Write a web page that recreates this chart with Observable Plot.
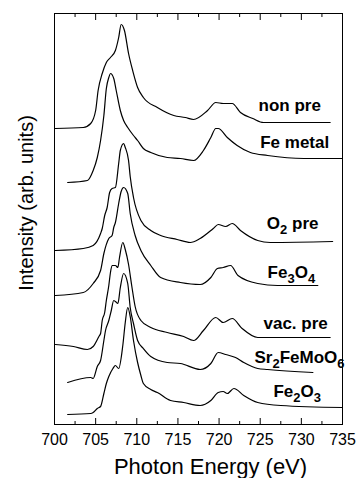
<!DOCTYPE html>
<html>
<head>
<meta charset="utf-8">
<script src="https://cdn.jsdelivr.net/npm/d3@7"></script>
<script src="https://cdn.jsdelivr.net/npm/@observablehq/plot@0.6"></script>
<style>
  html, body { margin: 0; padding: 0; background: white; }
  #chart svg { display: block; }
</style>
</head>
<body>
<div id="chart"></div>
<script>
// Photon energy (eV) and intensity (arb. units)
const nonPreE = [700.1,703.5,704.4,705.0,705.3,705.8,706.3,706.8,707.4,707.8,708.1,708.5,709.0,709.5,710.1,710.8,712.5,714.5,715.9,716.9,718.6,719.6,720.5,721.6,722.6,724.1,725.4,733.5];
const nonPreI = [296,297,301,314,334,351,362,367,374,387,400,394,371,354,337,327,317,309,307,305,314,322,321,321,312,306,302,302];

const feMetalE = [701.6,704.0,704.7,705.2,705.6,706.0,706.3,706.6,706.8,707.2,707.5,708.0,708.4,708.9,709.6,710.1,710.8,711.7,713.7,715.3,716.9,718.1,719.0,719.6,719.9,721.0,722.2,723.8,725.9,730.3,735.0];
const feMetalI = [242,244,254,267,284,309,336,347,351,346,334,314,304,297,289,284,276,272,267,266,264,274,287,296,296,287,279,272,269,266,266];

const o2PreE = [700.1,703.5,704.7,705.6,705.8,706.1,706.4,706.7,707.0,707.4,707.8,708.0,708.4,708.6,709.0,709.2,709.6,710.5,711.7,712.9,714.9,716.5,717.7,719.3,719.9,720.8,721.6,722.6,724.7,726.2,733.8];
const o2PreI = [174,176,179,191,196,209,217,232,236,237,261,274,281,277,264,248,227,204,194,189,185,182,186,196,200,198,201,194,184,182,183];

const fe3o4E = [700.1,703.5,704.7,705.6,706.0,706.6,707.0,707.2,707.4,707.8,708.1,708.4,708.9,709.2,709.8,710.5,711.7,712.9,715.3,717.7,719.0,719.8,720.5,721.4,722.3,724.7,727.1,732.0];
const fe3o4I = [129,132,141,154,171,186,189,197,202,221,233,237,231,211,189,174,159,147,142,140,147,156,157,159,149,141,139,139];

const vacPreE = [700.1,702.3,704.0,704.7,705.4,705.6,705.8,706.1,706.3,706.6,706.8,707.0,707.4,707.7,707.9,708.3,708.6,709.0,709.4,709.8,710.5,711.7,713.7,715.7,716.9,718.1,719.6,720.5,721.6,722.8,724.7,733.5];
const vacPreI = [80,78,75,78,88,91,104,112,124,139,152,159,159,157,167,182,175,160,138,118,104,97,92,88,84,94,107,102,106,96,87,87];

const sfmoE = [701.6,704.4,704.7,705.2,705.6,706.0,706.2,706.6,706.9,707.2,707.4,707.7,708.0,708.4,708.9,709.2,709.6,710.1,710.8,711.7,713.7,715.3,717.7,719.0,719.9,720.8,722.0,723.0,724.7,725.9,731.4];
const sfmoI = [42,47,46,58,64,84,94,104,114,124,123,121,137,151,141,117,101,84,76,68,62,61,55,61,72,70,67,62,56,55,52];

const fe2o3E = [701.6,704.4,704.7,705.2,705.6,706.0,706.3,706.6,707.1,707.4,707.8,708.3,708.6,708.9,709.2,709.6,710.1,710.5,710.8,711.7,712.5,714.1,715.7,717.7,719.0,719.9,720.5,721.0,721.8,723.0,724.7,727.5,735.0];
const fe2o3I = [10,11,12,16,18,31,41,48,56,59,56,79,102,117,108,84,62,49,41,35,32,24,22,19,24,32,33,31,36,29,22,19,17];

// Curve labels and where they sit (energy, intensity of baseline)
const labelNames = ["non pre", "Fe metal", "O\u2082 pre", "Fe\u2083O\u2084", "vac. pre", "Sr\u2082FeMoO\u2086", "Fe\u2082O\u2083"];
const labelE = [724.8, 725.0, 725.8, 725.9, 725.4, 724.3, 726.6];
const labelI = [314, 277, 196, 147, 96, 62, 28];

// Axis ticks
const majorTicks = [700, 705, 710, 715, 720, 725, 730, 735];
const minorTicks = [702.5, 707.5, 712.5, 717.5, 722.5, 727.5, 732.5];

const series = [
  {name: "non pre", e: nonPreE, i: nonPreI},
  {name: "Fe metal", e: feMetalE, i: feMetalI},
  {name: "O2 pre", e: o2PreE, i: o2PreI},
  {name: "Fe3O4", e: fe3o4E, i: fe3o4I},
  {name: "vac. pre", e: vacPreE, i: vacPreI},
  {name: "Sr2FeMoO6", e: sfmoE, i: sfmoI},
  {name: "Fe2O3", e: fe2o3E, i: fe2o3I}
];
const rows = series.flatMap(s => s.e.map((e, k) => ({s: s.name, e, i: s.i[k]})));
const labels = labelNames.map((t, k) => ({t, e: labelE[k], i: labelI[k]}));
const blank = () => "";

const chart = Plot.plot({
  width: 360,
  height: 478,
  marginLeft: 54,
  marginRight: 18,
  marginTop: 13,
  marginBottom: 54,
  x: {domain: [700, 735], label: null},
  y: {domain: [0, 411], axis: null, label: null},
  style: {fontFamily: "'Liberation Sans', Arial, Helvetica, sans-serif", color: "black", background: "white", overflow: "visible"},
  marks: [
    Plot.line(rows, {x: "e", y: "i", z: "s", stroke: "black", strokeWidth: 1.2, curve: "monotone-x"}),
    Plot.frame({stroke: "black", strokeWidth: 1}),
    Plot.axisX(majorTicks, {anchor: "bottom", tickSize: -6, tickFormat: blank, label: null}),
    Plot.axisX(minorTicks, {anchor: "bottom", tickSize: -3, tickFormat: blank, label: null}),
    Plot.axisX(majorTicks, {anchor: "top", tickSize: -6, tickFormat: blank, label: null}),
    Plot.axisX(minorTicks, {anchor: "top", tickSize: -3, tickFormat: blank, label: null}),
    Plot.axisX(majorTicks, {anchor: "bottom", tickSize: 0, tickPadding: 9, fontSize: 16, label: null, fill: "black"}),
    Plot.text(labels, {x: "e", y: "i", text: "t", textAnchor: "start", lineAnchor: "bottom", fontSize: 17, fontWeight: "bold", fill: "black"}),
    Plot.text(["Photon Energy (eV)"], {frameAnchor: "bottom", textAnchor: "middle", lineAnchor: "bottom", dy: 49, dx: 12, fontSize: 22, fill: "black"}),
    Plot.text(["Intensity (arb. units)"], {frameAnchor: "left", textAnchor: "middle", lineAnchor: "middle", rotate: -90, dx: -28, dy: -16, fontSize: 20, fill: "black"})
  ]
});

// Render Unicode subscript digits in the curve labels as lowered digits
d3.select(chart).selectAll("text").each(function () {
  const s = this.textContent;
  if (!labelNames.includes(s)) return;
  const el = d3.select(this);
  el.text(null);
  let run = "", shifted = false;
  const flush = () => {
    if (!run) return;
    el.append("tspan").text(run);
    run = "";
  };
  for (const ch of s) {
    const c = ch.codePointAt(0);
    if (c >= 0x2080 && c <= 0x2089) {
      flush();
      el.append("tspan").attr("dy", shifted ? null : "5").attr("font-size", "13").text(String(c - 0x2080));
      shifted = true;
    } else {
      if (shifted) {
        flush();
        el.append("tspan").attr("dy", "-5").text(ch);
        shifted = false;
      } else {
        run += ch;
      }
    }
  }
  flush();
});

document.getElementById("chart").appendChild(chart);
</script>
</body>
</html>
